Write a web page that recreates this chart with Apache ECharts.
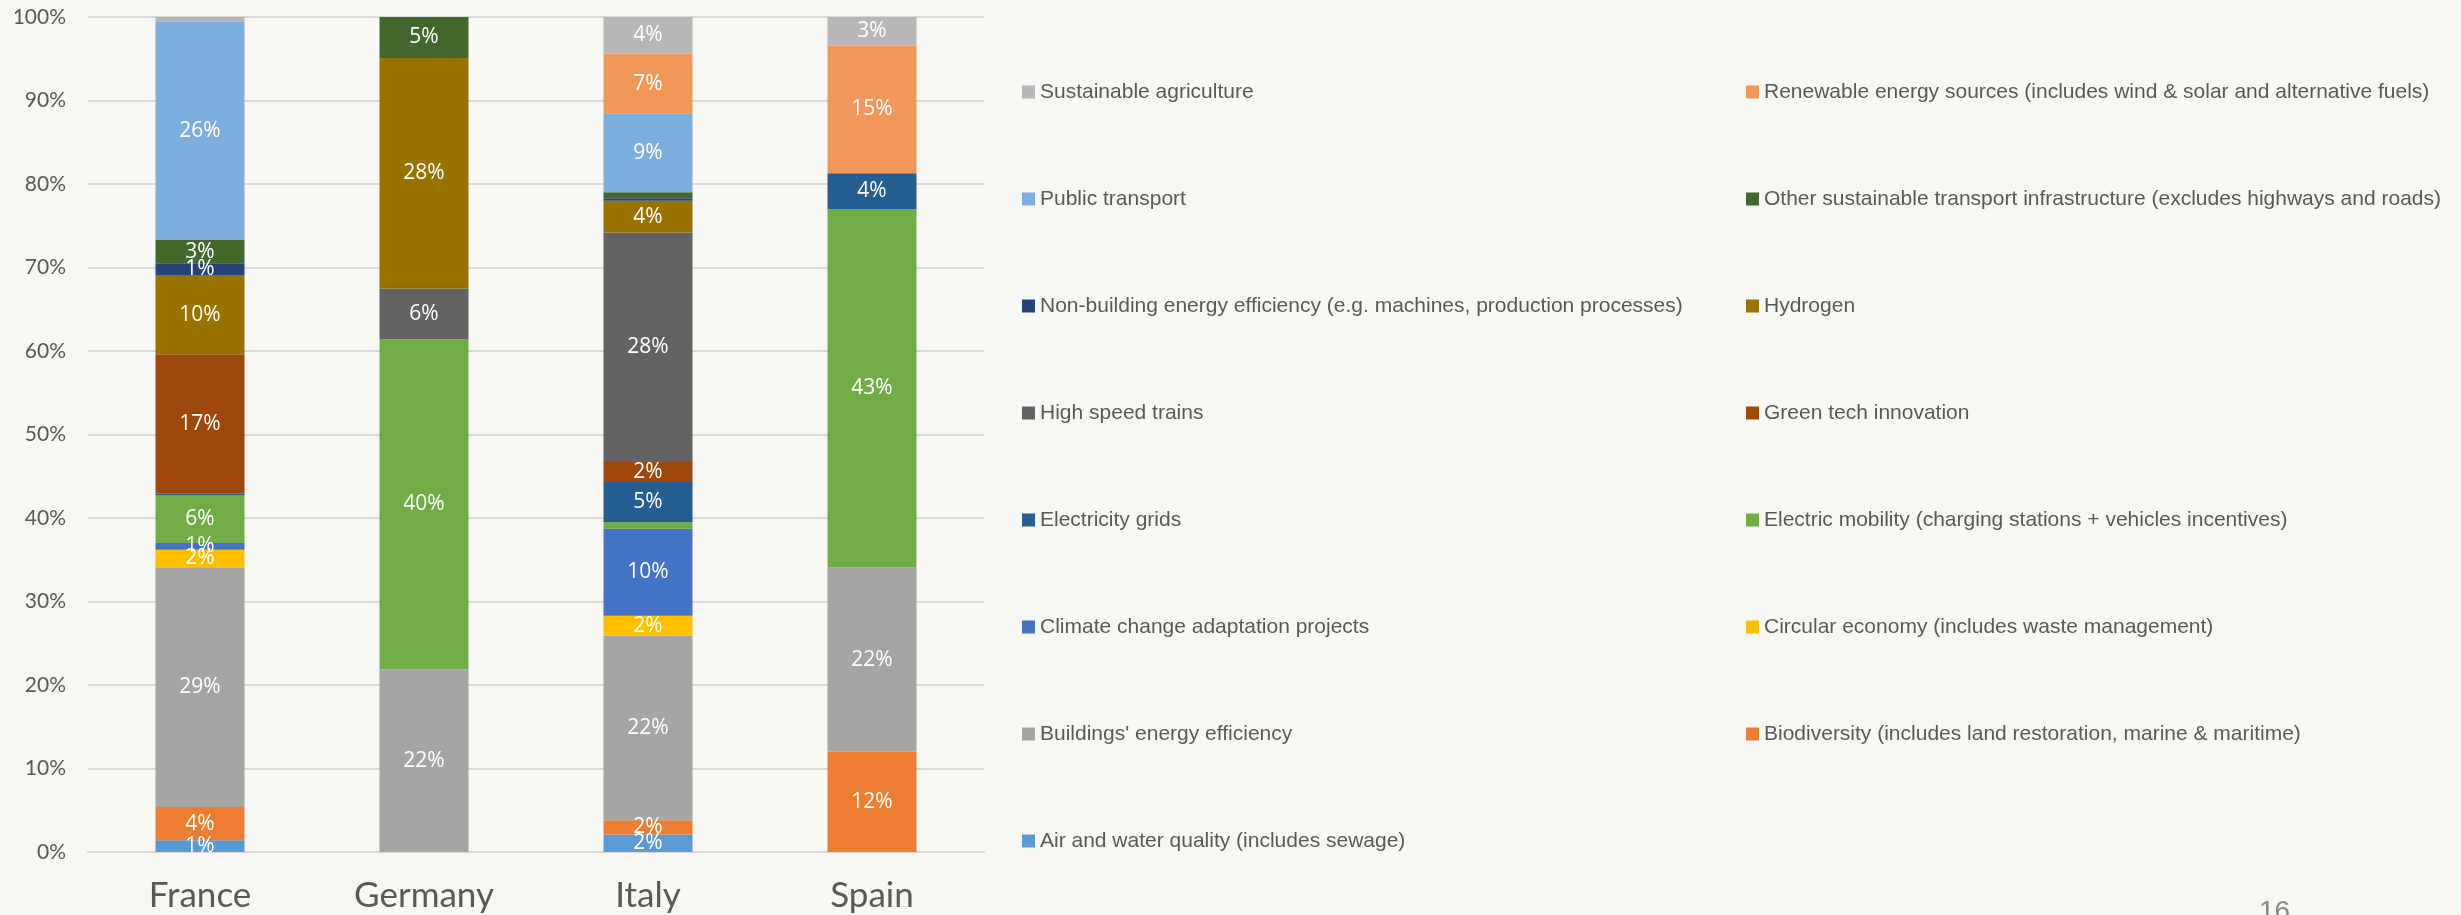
<!DOCTYPE html>
<html>
<head>
<meta charset="utf-8">
<title>Green spending by country</title>
<script src="https://cdn.jsdelivr.net/npm/echarts@6/dist/echarts.min.js"></script>
<style>
  html, body { margin: 0; padding: 0; background: #F7F7F3; }
  #chart { width: 2461px; height: 915px; }
</style>
</head>
<body>
<div id="chart"></div>
<script>
// categories
const countries = ['France', 'Germany', 'Italy', 'Spain'];
const yTicks = [0, 10, 20, 30, 40, 50, 60, 70, 80, 90, 100];

// series names, bottom of the stack first
const names = [
  'Air and water quality (includes sewage)',
  'Biodiversity (includes land restoration, marine & maritime)',
  "Buildings' energy efficiency",
  'Circular economy (includes waste management)',
  'Climate change adaptation projects',
  'Electric mobility (charging stations + vehicles incentives)',
  'Electricity grids',
  'Green tech innovation',
  'High speed trains',
  'Hydrogen',
  'Non-building energy efficiency (e.g. machines, production processes)',
  'Other sustainable transport infrastructure (excludes highways and roads)',
  'Public transport',
  'Renewable energy sources (includes wind & solar and alternative fuels)',
  'Sustainable agriculture'
];

// share of green spending, % (France, Germany, Italy, Spain)
const airWater       = [1.4, null, 2.1, null];
const biodiversity   = [4.0, null, 1.7, 12.0];
const buildings      = [28.7, 21.9, 22.1, 22.1];
const circular       = [2.1, null, 2.4, null];
const climate        = [0.8, null, 10.4, null];
const eMobility      = [5.7, 39.5, 0.8, 42.9];
const grids          = [0.2, null, 4.8, 4.3];
const greenTech      = [16.7, null, 2.4, null];
const highSpeed      = [null, 6.1, 27.5, null];
const hydrogen       = [9.5, 27.6, 3.8, null];
const nonBuilding    = [1.4, null, 0.3, null];
const otherTransport = [2.8, 4.9, 0.7, null];
const publicTrans    = [26.2, null, 9.4, null];
const renewables     = [null, null, 7.2, 15.3];
const sustAgri       = [0.5, null, 4.4, 3.4];

const values = [airWater, biodiversity, buildings, circular, climate, eMobility, grids,
  greenTech, highSpeed, hydrogen, nonBuilding, otherTransport, publicTrans, renewables, sustAgri];

const colors = ['#5B9BD5', '#ED7D31', '#A5A5A5', '#FFC000', '#4472C4', '#70AD47', '#255E91',
  '#9E480E', '#636363', '#997300', '#264478', '#43682B', '#7CAFDD', '#F1975A', '#B7B7B7'];

// segments that carry no data label in the original
const unlabelled = [
  ['France', 6], ['France', 14],
  ['Italy', 5], ['Italy', 10], ['Italy', 11]
];

const leftLegend = [14, 12, 10, 8, 6, 4, 2, 0].map(i => names[i]);
const rightLegend = [13, 11, 9, 7, 5, 3, 1].map(i => names[i]);

const chart = echarts.init(document.getElementById('chart'));

const legendBase = {
  orient: 'vertical',
  top: 81,
  padding: 0,
  itemWidth: 13,
  itemHeight: 13,
  itemGap: 85,
  icon: 'rect',
  selectedMode: false,
  textStyle: {
    color: '#595959',
    fontFamily: '"Liberation Sans Narrow", "Liberation Sans", sans-serif',
    fontSize: 21,
    lineHeight: 22
  }
};

chart.setOption({
  backgroundColor: '#F7F7F3',
  animation: false,
  grid: { left: 88, right: 1477, top: 17, bottom: 63 },
  legend: [
    Object.assign({}, legendBase, { left: 1022, data: leftLegend }),
    Object.assign({}, legendBase, { left: 1746, data: rightLegend })
  ],
  xAxis: {
    type: 'category',
    data: countries,
    axisLine: { lineStyle: { color: '#D9D9D9', width: 2 } },
    axisTick: { show: false },
    axisLabel: {
      color: '#595959',
      fontFamily: 'Lato, sans-serif',
      fontSize: 35,
      margin: 26
    }
  },
  yAxis: {
    type: 'value',
    min: yTicks[0],
    max: yTicks[yTicks.length - 1],
    interval: 10,
    axisLine: { show: false },
    axisTick: { show: false },
    splitLine: { lineStyle: { color: '#D9D9D9', width: 2 } },
    axisLabel: {
      color: '#595959',
      fontFamily: 'Lato, sans-serif',
      fontSize: 21,
      margin: 22,
      formatter: '{value}%'
    }
  },
  series: values.map((vals, i) => ({
    name: names[i],
    type: 'bar',
    stack: 'total',
    barWidth: 89,
    itemStyle: { color: colors[i] },
    label: {
      show: true,
      position: 'inside',
      color: '#FFFFFF',
      fontFamily: '"Open Sans", sans-serif',
      fontSize: 21,
      formatter: p => {
        if (p.value == null) return '';
        if (unlabelled.some(u => u[0] === p.name && u[1] === i)) return '';
        return Math.round(p.value) + '%';
      }
    },
    data: vals
  })),
  graphic: [{
    type: 'text',
    left: 2259,
    top: 898,
    style: { text: '16', fill: '#8A8A8A', font: '28px "Liberation Sans", sans-serif' }
  }]
});
</script>
</body>
</html>
